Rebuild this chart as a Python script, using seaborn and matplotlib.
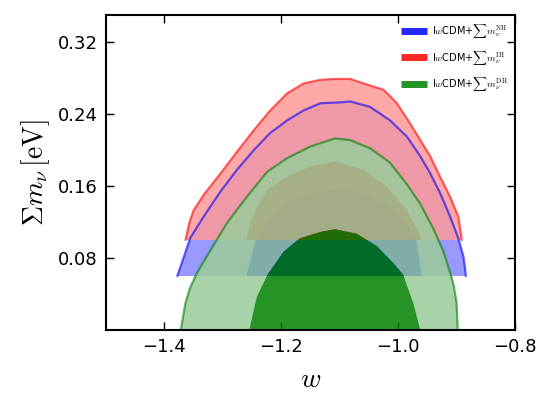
import matplotlib
matplotlib.use("Agg")
import matplotlib.pyplot as plt
from matplotlib.lines import Line2D
import seaborn as sns

# contour data: (w, sum m_nu) along each contour edge
# NH: normal hierarchy, prior cut at 0.06 eV
nh_prior = 0.06
nh_outer_w = [-1.378, -1.367, -1.356, -1.333, -1.304, -1.276, -1.247, -1.219, -1.190, -1.162, -1.133, -1.099,
              -1.082, -1.048, -1.014, -0.985, -0.962, -0.945, -0.928, -0.911, -0.897, -0.888, -0.884]
nh_outer_s = [0.060, 0.081, 0.102, 0.126, 0.154, 0.178, 0.200, 0.219, 0.233, 0.244, 0.252, 0.253,
              0.254, 0.248, 0.233, 0.215, 0.193, 0.174, 0.152, 0.126, 0.102, 0.081, 0.060]
nh_inner_w = [-1.260, -1.252, -1.244, -1.225, -1.195, -1.150, -1.100, -1.055, -1.015, -0.985, -0.968, -0.965, -0.959]
nh_inner_s = [0.060, 0.080, 0.100, 0.122, 0.140, 0.153, 0.157, 0.152, 0.137, 0.118, 0.100, 0.085, 0.060]

# IH: inverted hierarchy, prior cut at 0.10 eV
ih_prior = 0.10
ih_outer_w = [-1.364, -1.357, -1.350, -1.333, -1.304, -1.276, -1.247, -1.219, -1.190, -1.162, -1.133, -1.108,
              -1.082, -1.059, -1.025, -1.002, -0.980, -0.962, -0.945, -0.928, -0.911, -0.897, -0.891]
ih_outer_s = [0.100, 0.120, 0.133, 0.150, 0.174, 0.198, 0.222, 0.244, 0.263, 0.274, 0.278, 0.279,
              0.279, 0.274, 0.267, 0.252, 0.230, 0.211, 0.193, 0.170, 0.148, 0.126, 0.100]
ih_inner_w = [-1.260, -1.253, -1.242, -1.224, -1.190, -1.150, -1.108, -1.059, -1.019, -0.985, -0.965, -0.962]
ih_inner_s = [0.100, 0.120, 0.136, 0.156, 0.170, 0.182, 0.187, 0.178, 0.159, 0.133, 0.109, 0.100]

# DH: degenerate hierarchy, no cut
dh_prior = 0.0
dh_outer_w = [-1.372, -1.364, -1.356, -1.344, -1.321, -1.293, -1.259, -1.224, -1.190, -1.150, -1.108,
              -1.082, -1.048, -1.014, -0.985, -0.962, -0.940, -0.923, -0.911, -0.905, -0.900, -0.898]
dh_outer_s = [0.000, 0.030, 0.047, 0.064, 0.089, 0.119, 0.148, 0.176, 0.191, 0.204, 0.213,
              0.211, 0.202, 0.186, 0.162, 0.140, 0.113, 0.088, 0.064, 0.050, 0.030, 0.000]
dh_inner_w = [-1.255, -1.242, -1.224, -1.196, -1.168, -1.133, -1.108, -1.071, -1.036, -1.008, -0.991, -0.974, -0.962]
dh_inner_s = [0.000, 0.037, 0.061, 0.087, 0.102, 0.109, 0.112, 0.107, 0.093, 0.074, 0.061, 0.030, 0.000]

labels = [r'I$w$CDM+$\sum m_{\nu}^{\rm NH}$',
          r'I$w$CDM+$\sum m_{\nu}^{\rm IH}$',
          r'I$w$CDM+$\sum m_{\nu}^{\rm DH}$']

x_ticks = [-1.4, -1.2, -1.0, -0.8]
y_ticks = [0.08, 0.16, 0.24, 0.32]

sns.set_style("ticks")
plt.rcParams['font.family'] = ['DejaVu Sans']
plt.rcParams['mathtext.fontset'] = 'cm'
plt.rcParams['text.color'] = 'black'
plt.rcParams['axes.labelcolor'] = 'black'
plt.rcParams['xtick.color'] = 'black'
plt.rcParams['ytick.color'] = 'black'


def lighter(c):
    return tuple(0.4 * v + 0.6 for v in c)


models = [
    (nh_outer_w, nh_outer_s, nh_inner_w, nh_inner_s, (0.0, 0.0, 1.0), 1.0),
    (ih_outer_w, ih_outer_s, ih_inner_w, ih_inner_s, (1.0, 0.0, 0.0), 0.85),
    (dh_outer_w, dh_outer_s, dh_inner_w, dh_inner_s, (0.0, 0.5, 0.0), 0.85),
]

fig = plt.figure(figsize=(5.52, 4.07), dpi=100)
ax = fig.add_axes([0.192, 0.189, 0.741, 0.774])

for wo, so, wi, si, col, a in models:
    # 2 sigma band = outer edge, then inner edge back along the prior line
    ax.fill(wo + wi[::-1], so + si[::-1], color=lighter(col), alpha=a, lw=0)
    ax.fill(wi, si, color=col, alpha=a, lw=0)

for wo, so, wi, si, col, a in models:
    sns.lineplot(x=wo, y=so, ax=ax, color=col, alpha=0.6, lw=1.6, sort=False,
                 solid_joinstyle='round')

ax.set_xlim(-1.5, -0.8)
ax.set_ylim(0.0, 0.35)
ax.set_xticks(x_ticks)
ax.set_yticks(y_ticks)
ax.set_xticklabels(['\u22121.4', '\u22121.2', '\u22121.0', '\u22120.8'])
ax.set_yticklabels(['0.08', '0.16', '0.24', '0.32'])
ax.tick_params(direction='in', length=6, width=1, labelsize=13, pad=6,
               top=True, right=True, colors='black')
for sp in ax.spines.values():
    sp.set_linewidth(1.5)
    sp.set_color('black')

ax.set_xlabel(r'$w$', fontsize=20, labelpad=6)
ax.set_ylabel(r'$\Sigma m_{\nu}\,[\mathrm{eV}]$', fontsize=20, labelpad=4)

handles = [Line2D([], [], color=m[4], lw=5, alpha=0.85, solid_capstyle='butt') for m in models]
ax.legend(handles, labels, loc='upper right', frameon=False, fontsize=7,
          handlelength=2.6, handletextpad=0.6, labelspacing=0.9,
          borderaxespad=0.3)

fig.savefig('out.png', dpi=100)
